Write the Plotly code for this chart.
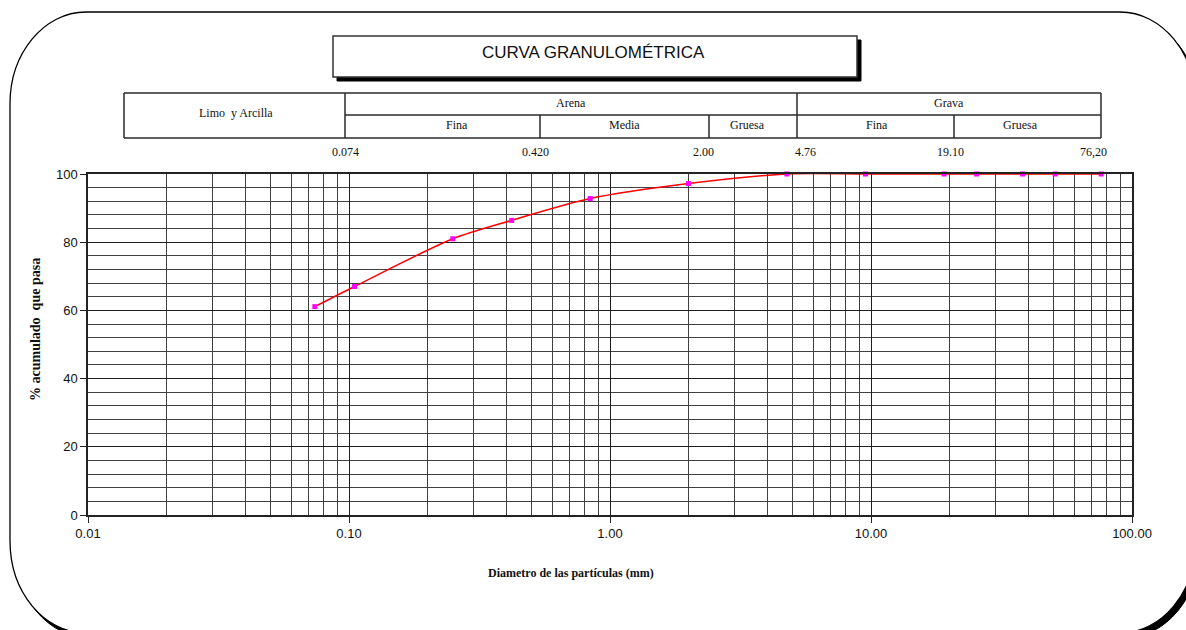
import plotly.graph_objects as go

# ---- data -------------------------------------------------------------
sieve_mm = [0.074, 0.105, 0.25, 0.42, 0.84, 2.00, 4.76, 9.525, 19.05, 25.4, 38.1, 50.8, 76.2]
passing_pct = [61.1, 67.0, 81.0, 86.4, 92.8, 97.2, 100, 100, 100, 100, 100, 100, 100]

x_tick_vals = [0.01, 0.1, 1, 10, 100]
x_tick_text = ["0.01", "0.10", "1.00", "10.00", "100.00"]
y_tick_vals = [0, 20, 40, 60, 80, 100]

title_text = "CURVA GRANULOMÉTRICA"
x_title = "Diametro de las partículas (mm)"
y_title = "% acumulado  que pasa"

# classification table: top row and bottom row labels
class_top = ["Limo  y Arcilla", "Arena", "Grava"]
class_bottom = ["Fina", "Media", "Gruesa", "Fina", "Gruesa"]
limit_labels = ["0.074", "0.420", "2.00", "4.76", "19.10", "76,20"]

# ---- page geometry (pixels) ------------------------------------------
FW, FH = 1186, 630
ML, MR, MT, MB = 88, 54, 174, 115
PW, PH = FW - ML - MR, FH - MT - MB


def xp(px):
    return (px - ML) / PW


def yp(py):
    return 1 - (py - MT) / PH


def rounded_path(x0, y0, x1, y1, rx, ry):
    k = 0.5523
    pts = []
    pts.append(f"M {xp(x0 + rx)},{yp(y0)}")
    pts.append(f"L {xp(x1 - rx)},{yp(y0)}")
    pts.append(f"C {xp(x1 - rx + k * rx)},{yp(y0)} {xp(x1)},{yp(y0 + ry - k * ry)} {xp(x1)},{yp(y0 + ry)}")
    pts.append(f"L {xp(x1)},{yp(y1 - ry)}")
    pts.append(f"C {xp(x1)},{yp(y1 - ry + k * ry)} {xp(x1 - rx + k * rx)},{yp(y1)} {xp(x1 - rx)},{yp(y1)}")
    pts.append(f"L {xp(x0 + rx)},{yp(y1)}")
    pts.append(f"C {xp(x0 + rx - k * rx)},{yp(y1)} {xp(x0)},{yp(y1 - ry + k * ry)} {xp(x0)},{yp(y1 - ry)}")
    pts.append(f"L {xp(x0)},{yp(y0 + ry)}")
    pts.append(f"C {xp(x0)},{yp(y0 + ry - k * ry)} {xp(x0 + rx - k * rx)},{yp(y0)} {xp(x0 + rx)},{yp(y0)}")
    pts.append("Z")
    return " ".join(pts)


def line(x0, y0, x1, y1, color="#2a2a2a", width=1.5):
    return dict(type="line", xref="paper", yref="paper", layer="below",
                x0=xp(x0), y0=yp(y0), x1=xp(x1), y1=yp(y1),
                line=dict(color=color, width=width))


def rect(x0, y0, x1, y1, fill, color, width):
    return dict(type="rect", xref="paper", yref="paper", layer="below",
                x0=xp(x0), y0=yp(y0), x1=xp(x1), y1=yp(y1),
                fillcolor=fill, line=dict(color=color, width=width))


shapes = []
# outer rounded frame with its drop shadow
shapes.append(dict(type="path", xref="paper", yref="paper", layer="below",
                   path=rounded_path(14, 17, 1200, 638, 76, 92),
                   fillcolor="black", line=dict(color="black", width=1)))
shapes.append(dict(type="path", xref="paper", yref="paper", layer="below",
                   path=rounded_path(10, 12, 1196, 633, 76, 92),
                   fillcolor="white", line=dict(color="black", width=1.3)))
# title box with shadow
shapes.append(rect(337, 40, 861, 81, "black", "black", 1))
shapes.append(rect(333, 36, 857, 77, "white", "#333333", 1.5))

# classification table
T_L, T_R, T_TOP, T_MID, T_BOT = 124, 1101, 93, 115, 138
v_full = [T_L, 345, 797, T_R]
v_lower = [540, 709, 954]
shapes.append(line(T_L, T_TOP, T_R, T_TOP))
shapes.append(line(T_L, T_BOT, T_R, T_BOT))
shapes.append(line(345, T_MID, T_R, T_MID))
for vx in v_full:
    shapes.append(line(vx, T_TOP, vx, T_BOT))
for vx in v_lower:
    shapes.append(line(vx, T_MID, vx, T_BOT))

serif = "Liberation Serif, Times New Roman, serif"
annotations = []


def label(text, x, y, size=12, family=serif, bold=False, angle=0):
    t = f"<b>{text}</b>" if bold else text
    annotations.append(dict(text=t, x=xp(x), y=yp(y), xref="paper", yref="paper",
                            showarrow=False, xanchor="center", yanchor="middle",
                            textangle=angle,
                            font=dict(family=family, size=size, color="#111111")))


top_centers = [(236, 113), (571, 103), (949, 103)]
for txt, (cx, cy) in zip(class_top, top_centers):
    label(txt, cx, cy)
bottom_centers = [457, 624, 747, 877, 1020]
for txt, cx in zip(class_bottom, bottom_centers):
    label(txt, cx, 125)
limit_centers = [345, 535, 703, 805, 950, 1093]
for txt, cx in zip(limit_labels, limit_centers):
    label(txt, cx, 152)

label(title_text, 593, 53, size=17,
      family="Liberation Sans Narrow, Arial Narrow, Liberation Sans, Arial, sans-serif")
label(x_title, 571, 573, bold=True)
label(y_title, 35, 330, size=14, bold=True, angle=-90)

fig = go.Figure()
fig.add_trace(go.Scatter(
    x=sieve_mm, y=passing_pct, mode="lines+markers",
    line=dict(color="#ff0000", width=1.5, shape="spline", smoothing=0.8),
    marker=dict(symbol="square", size=5, color="#ff00ff"),
    cliponaxis=False, showlegend=False,
))

grid_major = "#1e1e1e"
grid_minor = "#404040"
fig.update_xaxes(
    type="log", range=[-2, 2],
    tickvals=x_tick_vals, ticktext=x_tick_text,
    ticks="outside", ticklen=6, tickcolor="#222222",
    showgrid=True, gridcolor=grid_major, gridwidth=1,
    minor=dict(dtick="D1", showgrid=True, gridcolor=grid_minor, gridwidth=1, ticks=""),
    showline=True, linecolor="#222222", linewidth=1.5, mirror=True,
    zeroline=False,
    tickfont=dict(family="Liberation Sans, Arial, sans-serif", size=13, color="#111111"),
)
fig.update_yaxes(
    range=[0, 100], tickvals=y_tick_vals,
    ticks="outside", ticklen=6, tickcolor="#222222",
    showgrid=True, gridcolor=grid_major, gridwidth=1,
    minor=dict(dtick=4, showgrid=True, gridcolor=grid_minor, gridwidth=1, ticks=""),
    showline=True, linecolor="#222222", linewidth=1.5, mirror=True,
    zeroline=False,
    tickfont=dict(family="Liberation Sans, Arial, sans-serif", size=13, color="#111111"),
)
fig.update_layout(
    width=FW, height=FH,
    margin=dict(l=ML, r=MR, t=MT, b=MB),
    paper_bgcolor="white", plot_bgcolor="rgba(0,0,0,0)",
    shapes=shapes, annotations=annotations,
    showlegend=False,
)

fig.write_html("out.html")
